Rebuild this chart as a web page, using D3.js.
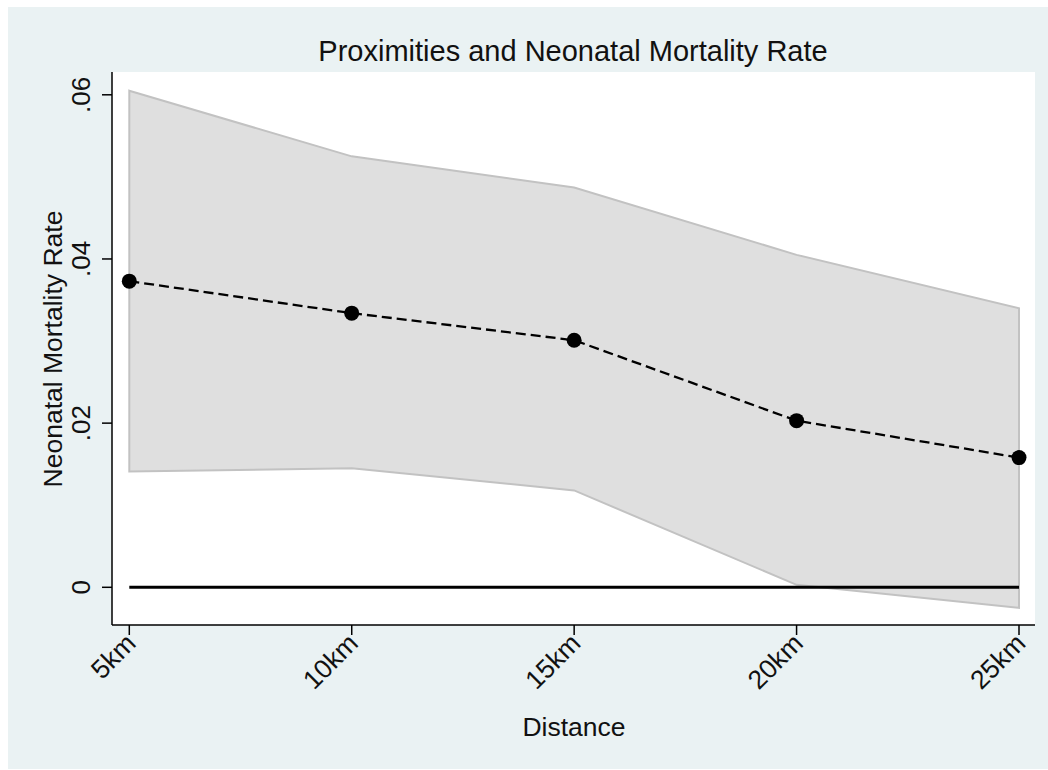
<!DOCTYPE html>
<html>
<head>
<meta charset="utf-8">
<script src="https://cdn.jsdelivr.net/npm/d3@7"></script>
<style>
  body { margin: 0; background: #fff; }
  svg { display: block; font-family: "Liberation Sans", Arial, sans-serif; }
</style>
</head>
<body>
<svg width="1048" height="770"></svg>
<script>
const distances = ["5km", "10km", "15km", "20km", "25km"];
const rate = [0.0373, 0.0334, 0.0301, 0.0203, 0.0158];
const upper = [0.0605, 0.0525, 0.0487, 0.0405, 0.0340];
const lower = [0.0141, 0.0145, 0.0118, 0.0003, -0.0025];
const yTicks = [0, 0.02, 0.04, 0.06];
const yTickLabels = ["0", ".02", ".04", ".06"];

const data = distances.map((d, i) => ({ dist: d, i: i, rate: rate[i], hi: upper[i], lo: lower[i] }));

const svg = d3.select("svg");

// outer stata-style background
svg.append("rect")
  .attr("x", 8).attr("y", 7)
  .attr("width", 1040).attr("height", 762)
  .attr("fill", "#eaf2f3");

const plot = { left: 112, top: 72, right: 1035, bottom: 625 };

svg.append("rect")
  .attr("x", plot.left).attr("y", plot.top)
  .attr("width", plot.right - plot.left).attr("height", plot.bottom - plot.top)
  .attr("fill", "#fff");

const x = d3.scalePoint()
  .domain(distances)
  .range([129.3, 1019]);

const y = d3.scaleLinear()
  .domain([0, 0.06])
  .range([587.3, 94.8]);

// confidence band
const area = d3.area()
  .x(d => x(d.dist))
  .y0(d => y(d.lo))
  .y1(d => y(d.hi));

svg.append("path")
  .datum(data)
  .attr("d", area)
  .attr("fill", "#dfdfdf")
  .attr("stroke", "#c2c2c2")
  .attr("stroke-width", 2);

// zero reference line
svg.append("line")
  .attr("x1", x(distances[0]))
  .attr("x2", x(distances[distances.length - 1]))
  .attr("y1", y(0)).attr("y2", y(0))
  .attr("stroke", "#000")
  .attr("stroke-width", 3);

// estimate line
const line = d3.line()
  .x(d => x(d.dist))
  .y(d => y(d.rate));

svg.append("path")
  .datum(data)
  .attr("d", line)
  .attr("fill", "none")
  .attr("stroke", "#000")
  .attr("stroke-width", 2.3)
  .attr("stroke-dasharray", "10,5");

svg.selectAll("circle.pt")
  .data(data)
  .enter()
  .append("circle")
  .attr("class", "pt")
  .attr("cx", d => x(d.dist))
  .attr("cy", d => y(d.rate))
  .attr("r", 7.5)
  .attr("fill", "#000");

// y axis
const yAxis = svg.append("g")
  .attr("transform", `translate(${plot.left},0)`);
yAxis.append("line")
  .attr("x1", 0).attr("x2", 0)
  .attr("y1", plot.top).attr("y2", plot.bottom)
  .attr("stroke", "#000").attr("stroke-width", 1.5);
yAxis.selectAll("line.tick")
  .data(yTicks)
  .enter()
  .append("line")
  .attr("class", "tick")
  .attr("x1", -10).attr("x2", 0)
  .attr("y1", d => y(d)).attr("y2", d => y(d))
  .attr("stroke", "#000").attr("stroke-width", 1.5);
yAxis.selectAll("text")
  .data(yTicks)
  .enter()
  .append("text")
  .attr("transform", d => `translate(-22,${y(d)}) rotate(-90)`)
  .attr("text-anchor", "middle")
  .attr("font-size", 26)
  .attr("fill", "#111")
  .text((d, i) => yTickLabels[i]);

// x axis
const xAxis = svg.append("g")
  .attr("transform", `translate(0,${plot.bottom})`);
xAxis.append("line")
  .attr("x1", plot.left).attr("x2", plot.right)
  .attr("y1", 0).attr("y2", 0)
  .attr("stroke", "#000").attr("stroke-width", 1.5);
xAxis.selectAll("line.tick")
  .data(distances)
  .enter()
  .append("line")
  .attr("class", "tick")
  .attr("x1", d => x(d)).attr("x2", d => x(d))
  .attr("y1", 0).attr("y2", 10)
  .attr("stroke", "#000").attr("stroke-width", 1.5);
xAxis.selectAll("text")
  .data(distances)
  .enter()
  .append("text")
  .attr("transform", d => `translate(${x(d) + 8},${20}) rotate(-45)`)
  .attr("text-anchor", "end")
  .attr("font-size", 26.5)
  .attr("fill", "#111")
  .text(d => d);

// titles
svg.append("text")
  .attr("x", 573).attr("y", 61)
  .attr("text-anchor", "middle")
  .attr("font-size", 29)
  .attr("fill", "#111")
  .text("Proximities and Neonatal Mortality Rate");

svg.append("text")
  .attr("x", 574).attr("y", 736)
  .attr("text-anchor", "middle")
  .attr("font-size", 26.5)
  .attr("fill", "#111")
  .text("Distance");

svg.append("text")
  .attr("transform", `translate(62,349) rotate(-90)`)
  .attr("text-anchor", "middle")
  .attr("font-size", 26.5)
  .attr("fill", "#111")
  .text("Neonatal Mortality Rate");
</script>
</body>
</html>
